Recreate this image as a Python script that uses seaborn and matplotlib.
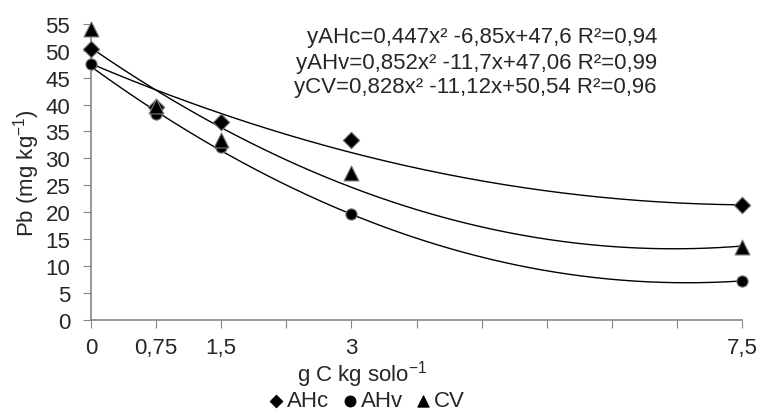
import numpy as np
import pandas as pd
import seaborn as sns
import matplotlib.pyplot as plt

# doses of C (g C kg solo-1) and Pb values
doses = [0, 0.75, 1.5, 3, 7.5]
ahc = [50.4, 39.5, 36.7, 33.5, 21.3]
ahv = [47.6, 38.3, 32.1, 19.7, 7.3]
cv = [54.0, 39.8, 33.5, 27.3, 13.6]

# fitted quadratic trendlines (a, b, c) as printed on the chart
coef_ahc = (0.447, -6.85, 47.6)
coef_ahv = (0.852, -11.7, 47.06)
coef_cv = (0.828, -11.12, 50.54)

eq_labels = ["yAHc=0,447x² -6,85x+47,6 R²=0,94",
             "yAHv=0,852x² -11,7x+47,06 R²=0,99",
             "yCV=0,828x² -11,12x+50,54 R²=0,96"]
tick_labels = {0: "0", 0.75: "0,75", 1.5: "1,5", 3: "3", 7.5: "7,5"}

sns.set_style("white")
plt.rcParams['font.family'] = ['Liberation Sans', 'DejaVu Sans']
plt.rcParams['mathtext.fontset'] = 'custom'
plt.rcParams['mathtext.rm'] = 'Liberation Sans'
plt.rcParams['mathtext.it'] = 'Liberation Sans'
FS = 16

xs = np.linspace(0, 7.5, 200)
curves = []
for name, (a, b, c) in zip(['AHc', 'AHv', 'CV'], [coef_ahc, coef_ahv, coef_cv]):
    curves.append(pd.DataFrame({'x': xs, 'y': a * xs**2 + b * xs + c, 'trat': name}))
curves = pd.concat(curves)

fig, ax = plt.subplots(figsize=(7.58, 4.14), dpi=100)
fig.subplots_adjust(left=0.12, right=0.979, bottom=0.225, top=0.94)

sns.lineplot(data=curves, x='x', y='y', units='trat', estimator=None,
             color='black', linewidth=1, ax=ax, legend=False)

# one scatter per treatment so each marker gets its own size
for vals, name, mk, size in [(ahc, 'AHc', 'D', 70), (ahv, 'AHv', 'o', 65), (cv, 'CV', '^', 115)]:
    sns.scatterplot(x=doses, y=vals, marker=mk, s=size, color='black',
                    edgecolor='#777777', linewidth=0.8, label=name,
                    ax=ax, zorder=3, clip_on=False)

ax.set_xlim(0, 7.5)
ax.set_ylim(0, 55)
ax.set_xticks(np.arange(0, 7.51, 0.75))
ax.set_xticklabels([tick_labels.get(round(t, 2), "") for t in np.arange(0, 7.51, 0.75)])
ax.set_yticks(range(0, 56, 5))
ax.tick_params(axis='both', labelsize=FS, color='#868686', length=6,
               direction='out', bottom=True, left=True)
ax.tick_params(axis='x', pad=6)
ax.tick_params(axis='y', pad=9)
for s in ['top', 'right']:
    ax.spines[s].set_visible(False)
for s in ['left', 'bottom']:
    ax.spines[s].set_color('#868686')
    ax.spines[s].set_linewidth(1.2)

ax.set_xlabel('')
ax.set_ylabel('Pb (mg kg$^{-1}$)', fontsize=FS, labelpad=2)
fig.text(362 / 758, 1 - 375 / 414, 'g C kg solo$^{-1}$', fontsize=FS,
         ha='center', va='center')

for i, t in enumerate(eq_labels):
    ax.text(657 / 758, 1 - (38 + 25 * i) / 414, t, transform=fig.transFigure,
            fontsize=FS, ha='right', va='center')

leg = ax.legend(loc='center', bbox_to_anchor=(365 / 758, 1 - 402 / 414),
                bbox_transform=fig.transFigure, ncol=3, frameon=False,
                fontsize=FS, handletextpad=0.0, handlelength=1.0,
                columnspacing=0.4, borderpad=0)
for h, sz in zip(leg.legend_handles, [40, 60, 65]):
    h.set_sizes([sz])
    h.set_edgecolor('black')

plt.savefig('out.png', dpi=100)
